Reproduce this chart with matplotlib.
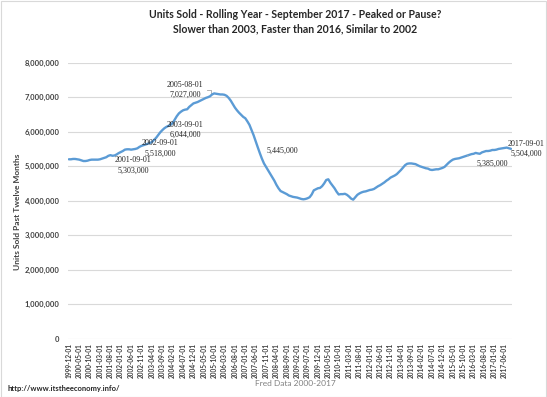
import matplotlib
matplotlib.use("Agg")
import matplotlib.pyplot as plt
import matplotlib.ticker as mticker
import pandas as pd
from matplotlib.patches import Rectangle

start_month = "1999-12-01"
units_millions = [
    5.20,
    5.20, 5.21, 5.21, 5.20, 5.19, 5.17, 5.15, 5.15, 5.16, 5.18, 5.19, 5.19,
    5.19, 5.19, 5.20, 5.22, 5.24, 5.26, 5.30, 5.32, 5.303, 5.31, 5.34, 5.38,
    5.41, 5.44, 5.48, 5.49, 5.49, 5.48, 5.49, 5.50, 5.518, 5.56, 5.59, 5.61,
    5.63, 5.65, 5.67, 5.70, 5.76, 5.82, 5.90, 5.98, 6.044, 6.10, 6.14, 6.17,
    6.20, 6.25, 6.35, 6.45, 6.53, 6.58, 6.62, 6.64, 6.65, 6.72, 6.77, 6.82,
    6.84, 6.86, 6.89, 6.92, 6.95, 6.98, 7.00, 7.027, 7.08, 7.11, 7.10, 7.09,
    7.08, 7.08, 7.07, 7.04, 6.98, 6.90, 6.80, 6.70, 6.62, 6.55, 6.49, 6.43,
    6.39, 6.30, 6.20, 6.05, 5.90, 5.72, 5.55, 5.38, 5.22, 5.08, 4.98, 4.88,
    4.78, 4.68, 4.58, 4.46, 4.36, 4.28, 4.25, 4.22, 4.19, 4.15, 4.13, 4.11,
    4.10, 4.09, 4.07, 4.05, 4.04, 4.05, 4.07, 4.10, 4.18, 4.30, 4.33, 4.36,
    4.37, 4.42, 4.50, 4.60, 4.62, 4.52, 4.44, 4.36, 4.26, 4.18, 4.19, 4.19,
    4.20, 4.17, 4.12, 4.06, 4.03, 4.10, 4.17, 4.21, 4.24, 4.26, 4.27, 4.29,
    4.31, 4.32, 4.34, 4.38, 4.42, 4.45, 4.49, 4.53, 4.58, 4.62, 4.67, 4.70,
    4.73, 4.77, 4.83, 4.89, 4.96, 5.03, 5.07, 5.08, 5.08, 5.07, 5.06, 5.03,
    5.00, 4.98, 4.96, 4.94, 4.93, 4.90, 4.89, 4.90, 4.91, 4.91, 4.93, 4.95,
    4.98, 5.04, 5.10, 5.15, 5.19, 5.21, 5.22, 5.23, 5.25, 5.27, 5.29, 5.31,
    5.33, 5.35, 5.36, 5.385, 5.37, 5.36, 5.40, 5.42, 5.44, 5.44, 5.45, 5.47,
    5.47, 5.48, 5.50, 5.51, 5.52, 5.53, 5.54, 5.52, 5.504,
]
dates = pd.date_range(start_month, periods=len(units_millions), freq="MS")
units = [v * 1e6 for v in units_millions]
tick_step = 5
tick_labels = [d.strftime("%Y-%m-%d") for d in dates[::tick_step]]

# (month date, value text, label x idx, label y millions)
callouts = [
    ("2001-09-01", "5,303,000", 31.0, 5.03),
    ("2002-09-01", "5,518,000", 44.0, 5.51),
    ("2003-09-01", "6,044,000", 56.0, 6.05),
    ("2005-08-01", "7,027,000", 56.0, 7.21),
    ("2017-09-01", "5,504,000", 220.5, 5.50),
]
title = "Units Sold - Rolling Year - September 2017 - Peaked or Pause?\nSlower than 2003, Faster than 2016, Similar to 2002"

plt.rcParams["font.family"] = ["Lato", "DejaVu Sans"]
fig = plt.figure(figsize=(5.47, 3.97), dpi=100)
ax = fig.add_axes([0.124, 0.147, 0.812, 0.695])

x = list(range(len(units)))
ax.plot(x, units, color="#5B9BD5", lw=1.7, solid_capstyle="round", zorder=3)

ax.set_ylim(0, 8e6)
ax.set_xlim(-0.5, len(units) - 0.5)
ax.yaxis.set_major_locator(mticker.MultipleLocator(1e6))
ax.yaxis.set_major_formatter(mticker.FuncFormatter(lambda v, p: f"{int(v):,}"))
ax.grid(axis="y", color="#D9D9D9", lw=0.8)
ax.set_axisbelow(True)
for s in ax.spines.values():
    s.set_visible(False)
ax.tick_params(axis="both", length=0)
ax.tick_params(axis="y", labelsize=5.5, pad=6, labelcolor="#404040")
ax.set_xticks(x[::tick_step])
ax.set_xticklabels(tick_labels, rotation=90, fontsize=4.7, fontweight="bold", color="#404040")
ax.tick_params(axis="x", pad=3)
for lab in ax.get_yticklabels():
    lab.set_fontweight("bold")

ax.set_ylabel("Units Sold Past Twelve Months", fontsize=6, fontweight="bold", color="#404040")
ax.yaxis.set_label_coords(-0.105, 0.46)

fig.text(0.54, 0.035, "Fred Data 2000-2017", ha="center", va="center", fontsize=6, color="#808080")
fig.text(0.014, 0.022, "http://www.itstheeconomy.info/", ha="left", va="center", fontsize=5.5, fontweight="bold", color="#262626")

fig.text(0.54, 0.963, title.split("\n")[0], ha="center", va="center", fontsize=7.6, fontweight="bold", color="#262626")
fig.text(0.54, 0.928, title.split("\n")[1], ha="center", va="center", fontsize=7.6, fontweight="bold", color="#262626")

for dstr, vtxt, lx, ly in callouts:
    ax.text(lx, ly * 1e6, f"{dstr}\n{vtxt}", ha="center", va="center", fontsize=5.8,
            family=["Liberation Serif", "DejaVu Serif"], color="#262626", linespacing=1.4, zorder=4,
            clip_on=False)

ax.text(103, 5.44e6, "5,445,000", ha="center", va="center", fontsize=5.8,
        family=["Liberation Serif", "DejaVu Serif"], color="#262626")
ax.annotate("5,385,000", xy=(192, 5.31e6), xytext=(204, 5.07e6), ha="center", va="center",
            fontsize=5.8, family=["Liberation Serif", "DejaVu Serif"], color="#262626",
            arrowprops=dict(arrowstyle="-", color="#A6A6A6", lw=0.6, shrinkA=4, shrinkB=0))
ax.plot([66.5, 68.5, 68.5], [7.22e6, 7.22e6, 7.1e6], color="#A6A6A6", lw=0.6)

fig.patches.append(Rectangle((0.001, 0.001), 0.997, 0.997, transform=fig.transFigure,
                             fill=False, edgecolor="#D9D9D9", lw=0.8))

fig.savefig("out.png", dpi=100)
